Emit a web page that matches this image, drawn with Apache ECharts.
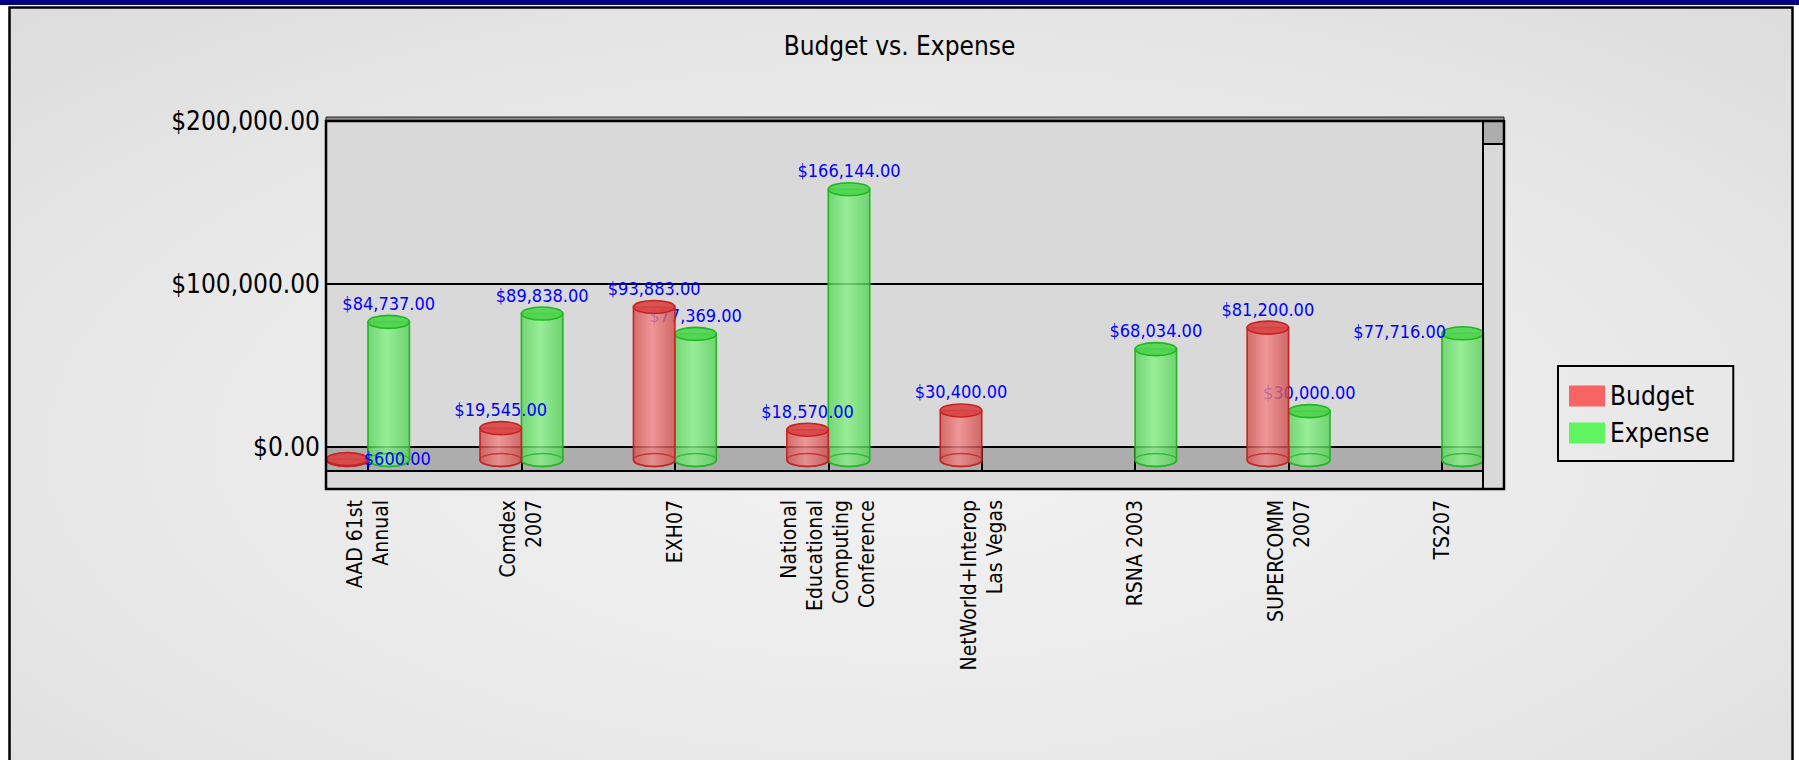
<!DOCTYPE html>
<html>
<head>
<meta charset="utf-8">
<script src="https://cdn.jsdelivr.net/npm/echarts@6/dist/echarts.min.js"></script>
<style>
html,body{margin:0;padding:0;background:#ffffff;}
#chart{width:1799px;height:760px;}
</style>
</head>
<body>
<div id="chart"></div>
<script>
// ---------------- data ----------------
const categories = [
  'AAD 61st\nAnnual',
  'Comdex\n2007',
  'EXH07',
  'National\nEducational\nComputing\nConference',
  'NetWorld+Interop\nLas Vegas',
  'RSNA 2003',
  'SUPERCOMM\n2007',
  'TS207'
];
const seriesNames = ['Budget', 'Expense'];
const budget  = [600, 19545, 93883, 18570, 30400, null, 81200, null];
const expense = [84737, 89838, 77369, 166144, null, 68034, 30000, 77716];
const yTicks  = [0, 100000, 200000];

// ---------------- style / layout ----------------
const FONT = '"DejaVu Sans Condensed", "DejaVu Sans", sans-serif';
const P = { left: 326, right: 1483, top: 121, zero: 447, floorBottom: 471, bottom: 489, scrollRight: 1504 };
const TICK_FIRST = 368, TICK_LAST = 1442;
const DEPTH = 13, RY = 6.5, BAR_RATIO = 0.27, LABEL_GAP = 5.5;
// label collision nudges, keyed by category index
const labelNudge = { Budget: { 0: [50, 18] }, Expense: { 7: [-63, 17] } };

const palettes = {
  Budget: {
    legend: '#f86464',
    body: ['rgba(210,80,80,0.80)', 'rgba(244,136,136,0.82)', 'rgba(206,76,76,0.80)'],
    top: 'rgba(216,68,68,0.9)',
    stroke: '#c42424'
  },
  Expense: {
    legend: '#60f560',
    body: ['rgba(92,212,92,0.80)', 'rgba(136,242,136,0.82)', 'rgba(88,208,88,0.80)'],
    top: 'rgba(78,212,78,0.9)',
    stroke: '#20b820'
  }
};

function money(v) {
  return '$' + Number(v).toLocaleString('en-US', { minimumFractionDigits: 2, maximumFractionDigits: 2 });
}

function makeRender(name, side) {
  const pal = palettes[name];
  return function (params, api) {
    const ci = api.value(0);
    const v = api.value(1);
    if (v == null || isNaN(v)) return;
    const band = api.size([1, 0])[0];
    const w = band * BAR_RATIO;
    const base = api.coord([ci, 0]);
    const topPt = api.coord([ci, v]);
    const cx = base[0] + side * w / 2;
    const yb = base[1] + DEPTH;
    const yt = topPt[1] + DEPTH;
    const rx = w / 2;
    const x0 = cx - rx, x1 = cx + rx;
    const grad = new echarts.graphic.LinearGradient(0, 0, 1, 0, [
      { offset: 0, color: pal.body[0] },
      { offset: 0.45, color: pal.body[1] },
      { offset: 1, color: pal.body[2] }
    ]);
    const nudge = labelNudge[name][ci] || [0, 0];
    return {
      type: 'group',
      children: [
        {
          type: 'path',
          shape: {
            pathData: 'M' + x0 + ' ' + yt + ' L' + x0 + ' ' + yb +
              ' A' + rx + ' ' + RY + ' 0 0 0 ' + x1 + ' ' + yb +
              ' L' + x1 + ' ' + yt + ' Z'
          },
          style: { fill: grad, stroke: pal.stroke, lineWidth: 1.6 }
        },
        {
          type: 'ellipse',
          shape: { cx: cx, cy: yb, rx: rx, ry: RY },
          style: { fill: 'none', stroke: pal.stroke, lineWidth: 1.4, opacity: 0.8 }
        },
        {
          type: 'ellipse',
          shape: { cx: cx, cy: yt, rx: rx, ry: RY },
          style: { fill: pal.top, stroke: pal.stroke, lineWidth: 1.6 }
        },
        {
          type: 'text',
          x: cx + nudge[0],
          y: topPt[1] - LABEL_GAP + nudge[1],
          style: {
            text: money(v),
            fill: '#0000ff',
            fontSize: 18,
            fontFamily: FONT,
            align: 'center',
            verticalAlign: 'middle'
          }
        }
      ]
    };
  };
}

function toData(arr) {
  const out = [];
  arr.forEach(function (v, i) { if (v != null) out.push([i, v]); });
  return out;
}

const chart = echarts.init(document.getElementById('chart'), null, { renderer: 'svg', width: 1799, height: 760 });

const outerGrad = {
  type: 'radial', x: 0.5, y: 0.55, r: 0.75,
  colorStops: [
    { offset: 0, color: '#f2f2f2' },
    { offset: 0.6, color: '#e8e8e8' },
    { offset: 1, color: '#dcdcdc' }
  ]
};

const option = {
  animation: false,
  title: {
    text: 'Budget vs. Expense',
    left: 'center',
    top: 33,
    padding: 0,
    textStyle: { fontSize: 26, fontWeight: 'normal', color: '#000', fontFamily: FONT }
  },
  legend: {
    data: seriesNames,
    orient: 'vertical',
    left: 1558,
    top: 366,
    padding: [17, 24, 15, 11],
    borderColor: '#000',
    borderWidth: 2,
    itemWidth: 36,
    itemHeight: 21,
    itemGap: 11,
    itemTextGap: 17,
    icon: 'rect',
    selectedMode: false,
    textStyle: { fontSize: 26, lineHeight: 25, color: '#000', fontFamily: FONT }
  },
  graphic: [
    { type: 'rect', z: -5, shape: { x: 0, y: 0, width: 1799, height: 5 }, style: { fill: '#000080' } },
    { type: 'rect', z: -5, shape: { x: 9.5, y: 7.5, width: 1783, height: 800 }, style: { fill: outerGrad, stroke: '#000', lineWidth: 2.5 } },
    { type: 'rect', z: -4, shape: { x: P.left, y: P.top, width: P.right - P.left, height: P.zero - P.top }, style: { fill: '#d9d9d9' } },
    { type: 'rect', z: -4, shape: { x: P.left, y: P.zero, width: P.right - P.left, height: P.floorBottom - P.zero }, style: { fill: '#adadad' } },
    { type: 'rect', z: -4, shape: { x: P.left, y: P.floorBottom, width: P.right - P.left, height: P.bottom - P.floorBottom }, style: { fill: '#d9d9d9' } },
    { type: 'rect', z: -4, shape: { x: P.right, y: P.top, width: P.scrollRight - P.right, height: P.bottom - P.top }, style: { fill: '#d9d9d9' } },
    { type: 'rect', z: -4, shape: { x: P.right, y: P.top, width: P.scrollRight - P.right, height: 23 }, style: { fill: '#adadad', stroke: '#000', lineWidth: 2 } },
    { type: 'rect', z: -4, shape: { x: P.left, y: P.top - 4, width: P.scrollRight - P.left, height: 4 }, style: { fill: '#8c8c8c', stroke: '#222', lineWidth: 1 } },
    { type: 'line', z: 1, shape: { x1: P.left, y1: P.floorBottom, x2: P.right, y2: P.floorBottom }, style: { stroke: '#000', lineWidth: 2 } },
    { type: 'line', z: 10, shape: { x1: P.right, y1: P.top, x2: P.right, y2: P.bottom }, style: { stroke: '#000', lineWidth: 2 } },
    { type: 'rect', z: 10, shape: { x: P.left, y: P.top, width: P.scrollRight - P.left, height: P.bottom - P.top }, style: { fill: 'none', stroke: '#000', lineWidth: 2.5 } }
  ],
  grid: [
    { left: P.left, top: P.top, width: P.right - P.left, height: P.zero - P.top },
    { left: TICK_FIRST, top: P.top, width: TICK_LAST - TICK_FIRST, height: P.zero - P.top }
  ],
  xAxis: [
    { gridIndex: 0, type: 'value', min: 0, max: 1, show: false },
    {
      gridIndex: 1,
      type: 'category',
      data: categories,
      boundaryGap: false,
      offset: P.floorBottom - P.zero,
      axisLine: { show: false },
      axisTick: { show: true, length: 23, lineStyle: { color: '#000', width: 2 } },
      axisLabel: {
        interval: 0,
        rotate: 90,
        margin: 29,
        fontSize: 21,
        lineHeight: 26,
        color: '#000',
        fontFamily: FONT
      },
      splitLine: { show: false }
    }
  ],
  yAxis: [
    {
      gridIndex: 0,
      type: 'value',
      min: yTicks[0],
      max: yTicks[yTicks.length - 1],
      interval: yTicks[1] - yTicks[0],
      axisLine: { show: false },
      axisTick: { show: false },
      axisLabel: { margin: 6, fontSize: 26, color: '#000', fontFamily: FONT, formatter: money },
      splitLine: { show: true, lineStyle: { color: '#000', width: 2 } }
    },
    {
      gridIndex: 1,
      type: 'value',
      min: yTicks[0],
      max: yTicks[yTicks.length - 1],
      show: false,
      splitLine: { show: false }
    }
  ],
  series: [
    {
      name: 'Expense',
      type: 'custom',
      xAxisIndex: 1,
      yAxisIndex: 1,
      z: 2,
      itemStyle: { color: palettes.Expense.legend },
      renderItem: makeRender('Expense', 1),
      data: toData(expense)
    },
    {
      name: 'Budget',
      type: 'custom',
      xAxisIndex: 1,
      yAxisIndex: 1,
      z: 3,
      itemStyle: { color: palettes.Budget.legend },
      renderItem: makeRender('Budget', -1),
      data: toData(budget)
    }
  ]
};
chart.setOption(option);
</script>
</body>
</html>
